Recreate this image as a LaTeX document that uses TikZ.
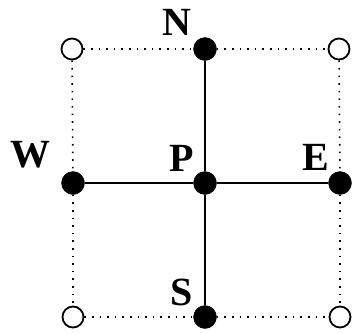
\documentclass[tikz,border=0pt]{standalone}
\usepackage{fontspec}
\setmainfont{Liberation Serif}
\begin{document}
\begin{tikzpicture}[x=1pt,y=-1pt,
  full/.style={circle,fill=black,draw=black,minimum size=23pt,inner sep=0pt},
  open/.style={circle,fill=white,draw=black,line width=1.8pt,minimum size=21pt,inner sep=0pt},
  lab/.style={inner sep=0pt,font=\fontsize{40}{40}\selectfont\bfseries},
  solidline/.style={line width=2.4pt},
  dotline/.style={line width=1.6pt,dash pattern=on 1.6pt off 6pt}]
\useasboundingbox (0,0) rectangle (352,332);
\node[open] (nw) at (72,49) {};
\node[open] (ne) at (339,49) {};
\node[open] (sw) at (73,317) {};
\node[open] (se) at (340,317) {};
\node[full] (n) at (205,49) {};
\node[full] (w) at (73,183) {};
\node[full] (p) at (205,183) {};
\node[full] (e) at (340,183) {};
\node[full] (s) at (205,317) {};
\draw[dotline] (nw) -- (n);
\draw[dotline] (n) -- (ne);
\draw[dotline] (sw) -- (s);
\draw[dotline] (s) -- (se);
\draw[dotline] (nw) -- (w);
\draw[dotline] (w) -- (sw);
\draw[dotline] (ne) -- (e);
\draw[dotline] (e) -- (se);
\draw[solidline] (w) -- (p);
\draw[solidline] (p) -- (e);
\draw[solidline] (n) -- (p);
\draw[solidline] (p) -- (s);
\node[lab] (ln) at (177,22) {N};
\node[lab] (lw) at (30,155) {W};
\node[lab] (lp) at (182,158) {P};
\node[lab] (le) at (316,157) {E};
\node[lab] (ls) at (182,292) {S};
\end{tikzpicture}
\end{document}
